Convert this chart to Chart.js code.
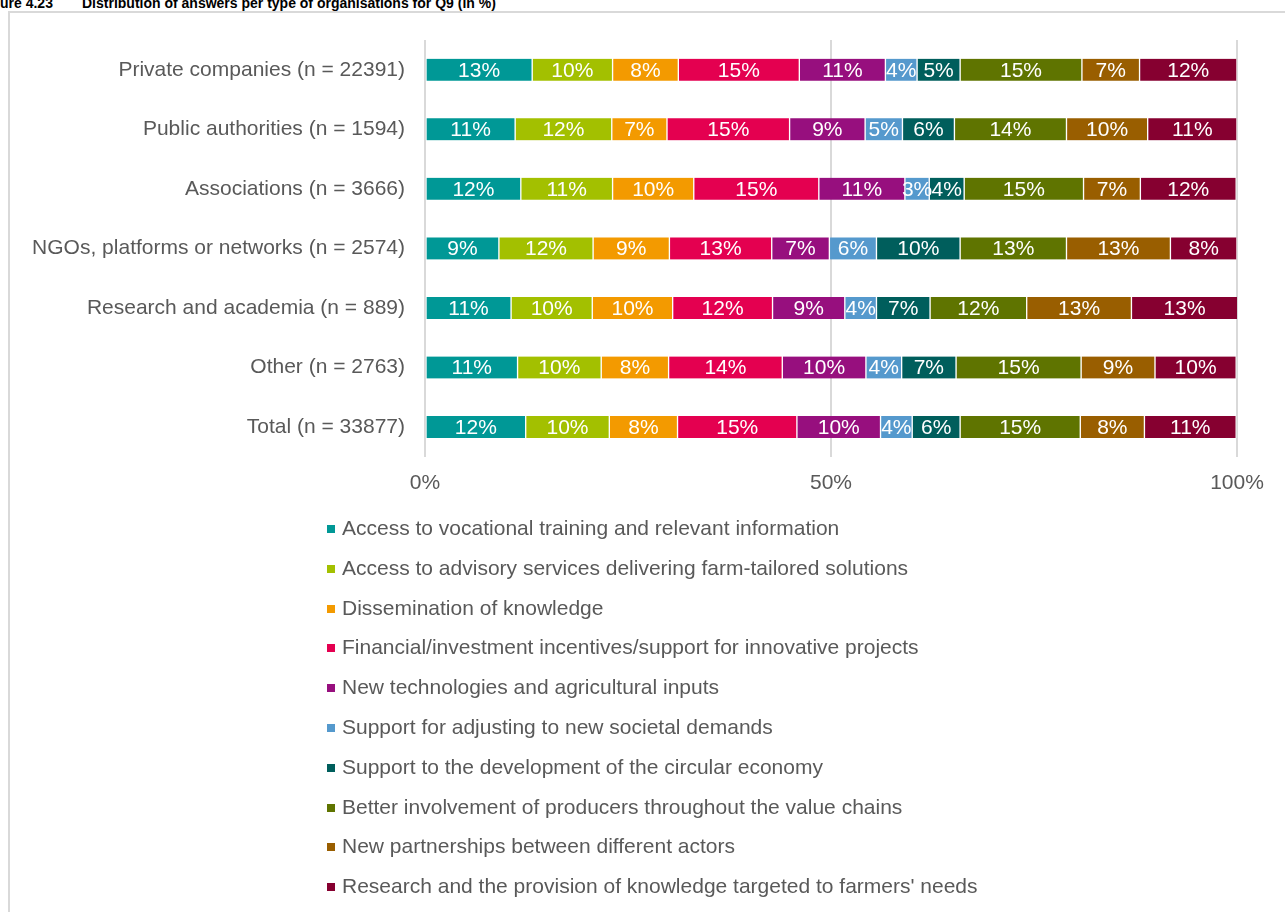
<!DOCTYPE html>
<html>
<head>
<meta charset="utf-8">
<script src="https://cdn.jsdelivr.net/npm/chart.js@4/dist/chart.umd.min.js"></script>
<style>
    body { margin: 0; background: #fff; font-family: "Liberation Sans", Arial, sans-serif; overflow: hidden; }
    .title { position: absolute; top: -5px; font-size: 14px; font-weight: bold; color: #000; white-space: nowrap; }
    #frame { position: absolute; left: 8px; top: 11px; width: 1290px; height: 920px; border: 2px solid #d9d9d9; box-sizing: border-box; }
    #wrap { position: absolute; left: 0; top: 0; width: 1285px; height: 510px; }
    #legend { position: absolute; left: 327px; top: 508px; list-style: none; margin: 0; padding: 0; }
    #legend li { height: 39.8px; line-height: 39.8px; font-size: 21px; color: #595959; white-space: nowrap; }
    #legend span.box { display: inline-block; width: 8px; height: 8px; margin-right: 7px; vertical-align: 2px; }
</style>
</head>
<body>
<div class="title" style="left:-21px">Figure 4.23</div>
<div class="title" style="left:82px">Distribution of answers per type of organisations for Q9 (in %)</div>
<div id="frame"></div>
<div id="wrap"><canvas id="chart"></canvas></div>
<ul id="legend"></ul>
<script>
// Organisation types (rows)
const categories = [
    "Private companies (n = 22391)",
    "Public authorities (n = 1594)",
    "Associations (n = 3666)",
    "NGOs, platforms or networks (n = 2574)",
    "Research and academia (n = 889)",
    "Other (n = 2763)",
    "Total (n = 33877)",
];

const seriesNames = [
    "Access to vocational training and relevant information",
    "Access to advisory services delivering farm-tailored solutions",
    "Dissemination of knowledge",
    "Financial/investment incentives/support for innovative projects",
    "New technologies and agricultural inputs",
    "Support for adjusting to new societal demands",
    "Support to the development of the circular economy",
    "Better involvement of producers throughout the value chains",
    "New partnerships between different actors",
    "Research and the provision of knowledge targeted to farmers' needs",
];

const seriesColors = [
    "#009896", "#a3c000", "#f39a00", "#e40050", "#970f7e",
    "#5599cd", "#005e5c", "#5f7400", "#995e00", "#860030",
];

// values in %, one array per answer, in row order
const vocational = [13.2, 11.1, 11.8, 9.1, 10.6, 11.4, 12.4];
const advisory = [9.9, 11.9, 11.3, 11.6, 10.0, 10.3, 10.3];
const dissemination = [8.1, 6.8, 10.0, 9.4, 9.9, 8.3, 8.4];
const financial = [14.9, 15.1, 15.4, 12.6, 12.3, 14.0, 14.7];
const technologies = [10.6, 9.3, 10.6, 7.1, 8.9, 10.3, 10.3];
const societal = [3.9, 4.6, 3.0, 5.8, 3.9, 4.4, 3.9];
const circular = [5.3, 6.4, 4.3, 10.3, 6.6, 6.7, 5.9];
const valueChains = [15.0, 13.8, 14.7, 13.1, 11.9, 15.4, 14.8];
const partnerships = [7.1, 10.0, 7.0, 12.8, 12.9, 9.1, 7.9];
const research = [12.0, 11.0, 11.8, 8.2, 13.1, 10.0, 11.3];

const seriesValues = [
    vocational, advisory, dissemination, financial, technologies,
    societal, circular, valueChains, partnerships, research,
];

const xTicks = [0, 50, 100];

Chart.defaults.font.family = "'Liberation Sans', Arial, sans-serif";
Chart.defaults.color = "#595959";

// Draw the rounded percentage in the middle of each segment
const segmentLabels = {
    id: "segmentLabels",
    afterDatasetsDraw(chart) {
        const { ctx } = chart;
        ctx.save();
        ctx.font = "21px 'Liberation Sans', Arial, sans-serif";
        ctx.fillStyle = "#fff";
        ctx.textAlign = "center";
        ctx.textBaseline = "middle";
        chart.data.datasets.forEach((ds, i) => {
            const meta = chart.getDatasetMeta(i);
            meta.data.forEach((bar, j) => {
                const cx = (bar.x + bar.base) / 2;
                ctx.fillText(Math.round(ds.data[j]) + "%", cx, bar.y + 1);
            });
        });
        ctx.restore();
    },
};

const datasets = seriesNames.map((name, i) => ({
    label: name,
    data: seriesValues[i],
    backgroundColor: seriesColors[i],
    borderColor: "#fff",
    borderWidth: { left: 1, right: 1, top: 0, bottom: 0 },
    borderSkipped: false,
    barThickness: 22,
}));

const chart = new Chart(document.getElementById("chart"), {
    type: "bar",
    data: { labels: categories, datasets },
    plugins: [segmentLabels],
    options: {
        indexAxis: "y",
        responsive: true,
        maintainAspectRatio: false,
        animation: false,
        layout: { padding: { top: 40, right: 48, bottom: 0, left: 0 } },
        plugins: {
            legend: { display: false },
            tooltip: { enabled: false },
        },
        scales: {
            x: {
                stacked: true,
                min: 0,
                max: 100,
                afterBuildTicks: (scale) => {
                    scale.ticks = xTicks.map((v) => ({ value: v }));
                },
                grid: { color: "#d9d9d9", lineWidth: 2, drawTicks: false },
                border: { display: false },
                ticks: {
                    padding: 14,
                    font: { size: 21 },
                    color: "#595959",
                    callback: (value) => value + "%",
                },
            },
            y: {
                stacked: true,
                grid: { display: false, drawTicks: false },
                border: { display: false },
                afterFit: (scale) => {
                    scale.width = 425;
                },
                ticks: {
                    padding: 20,
                    font: { size: 21 },
                    color: "#595959",
                },
            },
        },
    },
});

// Vertical legend, one entry per line
const legendEl = document.getElementById("legend");
chart.data.datasets.forEach((ds) => {
    const li = document.createElement("li");
    const box = document.createElement("span");
    box.className = "box";
    box.style.background = ds.backgroundColor;
    li.appendChild(box);
    li.appendChild(document.createTextNode(ds.label));
    legendEl.appendChild(li);
});
</script>
</body>
</html>
